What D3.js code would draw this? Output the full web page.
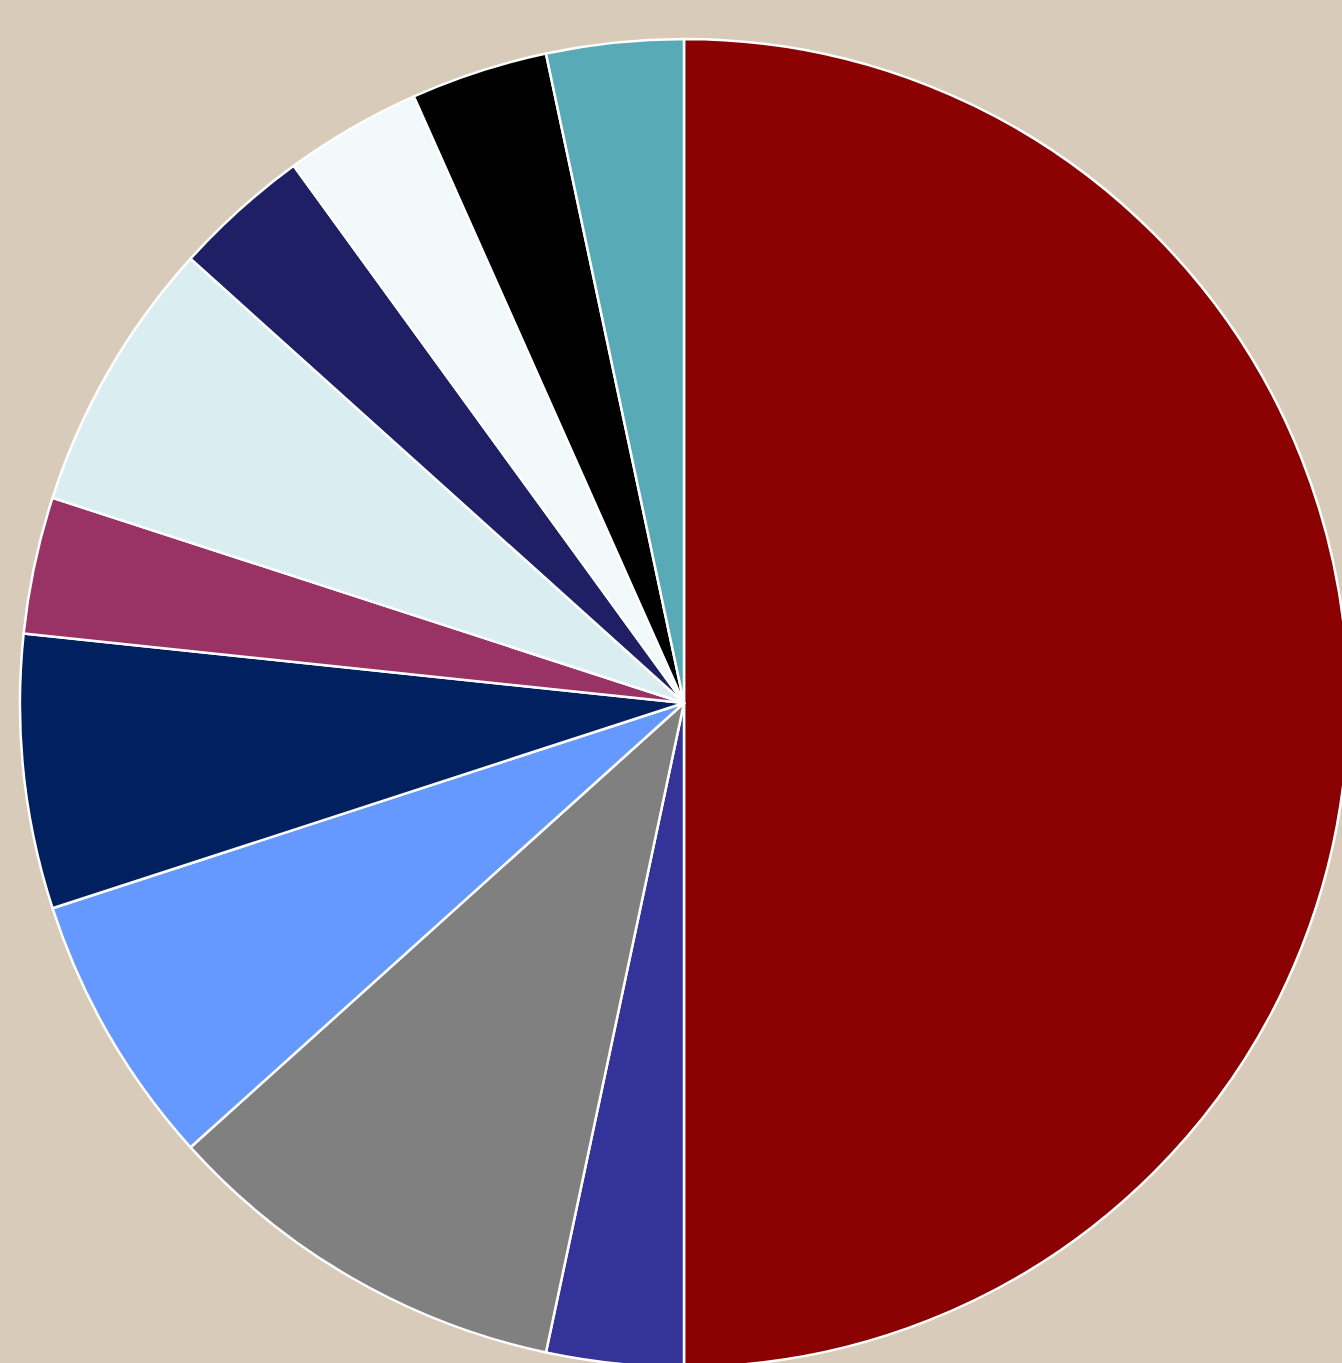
<!DOCTYPE html>
<html>
<head>
<meta charset="utf-8">
<script src="https://cdn.jsdelivr.net/npm/d3@7"></script>
<style>
  html, body { margin: 0; padding: 0; background: #d9cbb9; overflow: hidden; }
</style>
</head>
<body>
<script>
'use strict';

const width = 1342;
const height = 1363;

// slices, clockwise from 12 o'clock
const labels = ['A', 'B', 'C', 'D', 'E', 'F', 'G', 'H', 'I', 'J', 'K'];
const values = [15, 1, 3, 2, 2, 1, 2, 1, 1, 1, 1];
const colors = ['#8b0000', '#333399', '#808080', '#6699ff', '#002060', '#993366',
  '#daedf1', '#1f1f66', '#f2f9fa', '#000000', '#58abb6'];

const cx = 684;
const cy = 703;
const radius = 664;

const svg = d3.select('body').append('svg')
    .attr('width', width)
    .attr('height', height)
  .append('g')
    .attr('transform', 'translate(' + cx + ',' + cy + ')');

const pie = d3.pie().sort(null).value(d => d.value);
const arc = d3.arc().innerRadius(0).outerRadius(radius);

const data = labels.map((l, i) => ({label: l, value: values[i], color: colors[i]}));

svg.selectAll('path')
  .data(pie(data))
  .join('path')
    .attr('d', arc)
    .attr('fill', d => d.data.color)
    .attr('stroke', '#ffffff')
    .attr('stroke-width', 2.5)
    .attr('stroke-linejoin', 'round');
</script>
</body>
</html>
